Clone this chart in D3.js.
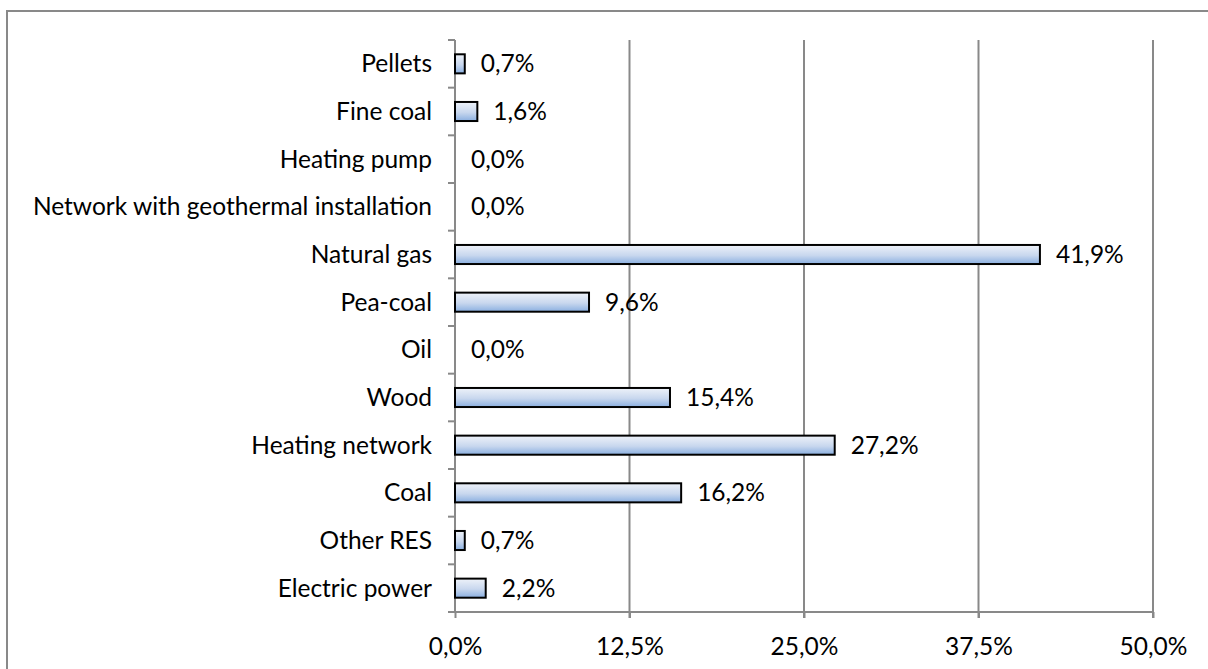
<!DOCTYPE html>
<html>
<head>
<meta charset="utf-8">
<script src="https://cdn.jsdelivr.net/npm/d3@7"></script>
<style>
  body { margin: 0; background: #fff; }
  text { font-family: Lato, "Open Sans", sans-serif; fill: #000; }
</style>
</head>
<body>
<div id="chart"></div>
<script>
// categories from top to bottom
const categories = ["Pellets", "Fine coal", "Heating pump", "Network with geothermal installation",
  "Natural gas", "Pea-coal", "Oil", "Wood", "Heating network", "Coal", "Other RES", "Electric power"];
const values = [0.7, 1.6, 0.0, 0.0, 41.9, 9.6, 0.0, 15.4, 27.2, 16.2, 0.7, 2.2];
const xTicks = [0, 12.5, 25, 37.5, 50];

const w = 1208, h = 669;
const margin = { top: 40, right: 55, bottom: 57, left: 455 };
const fontSize = 24.5;

const svg = d3.select("#chart").append("svg")
  .attr("width", w)
  .attr("height", h);

// gradient fill for the bars
const grad = svg.append("defs").append("linearGradient")
  .attr("id", "barGrad")
  .attr("x1", 0).attr("y1", 0).attr("x2", 0).attr("y2", 1);
grad.append("stop").attr("offset", "0%").attr("stop-color", "#eef2f9");
grad.append("stop").attr("offset", "55%").attr("stop-color", "#c8d7ee");
grad.append("stop").attr("offset", "100%").attr("stop-color", "#8aafe0");

// outer frame
svg.append("rect")
  .attr("x", 7).attr("y", 11)
  .attr("width", w + 10).attr("height", h + 10)
  .attr("fill", "none")
  .attr("stroke", "#898989")
  .attr("stroke-width", 2);

const xScale = d3.scaleLinear()
  .domain([0, 50])
  .range([margin.left, w - margin.right]);

const yScale = d3.scaleBand()
  .domain(categories)
  .range([margin.top, h - margin.bottom])
  .paddingInner(0.6)
  .paddingOuter(0.3);

const bottom = h - margin.bottom;
const fmt = d => d3.format(".1f")(d).replace(".", ",") + "%";

// vertical gridlines
svg.append("g")
  .selectAll("line")
  .data(xTicks.slice(1))
  .join("line")
  .attr("x1", d => xScale(d)).attr("x2", d => xScale(d))
  .attr("y1", margin.top).attr("y2", bottom + 6)
  .attr("stroke", "#898989")
  .attr("stroke-width", 2);

// x axis
const xAxis = d3.axisBottom(xScale)
  .tickValues(xTicks)
  .tickSize(6)
  .tickPadding(20)
  .tickFormat(fmt);

const gx = svg.append("g")
  .attr("transform", "translate(0," + bottom + ")")
  .call(xAxis);
gx.select(".domain").attr("stroke", "#898989").attr("stroke-width", 2)
  .attr("d", "M" + margin.left + ",0H" + xScale(50));
gx.selectAll(".tick line").attr("stroke", "#898989").attr("stroke-width", 2);
gx.selectAll(".tick text").attr("font-size", fontSize).attr("font-family", "Lato, sans-serif");

// y axis: ticks sit between the categories
const step = yScale.step();
const boundaries = d3.range(categories.length + 1).map(i => margin.top + i * step);
svg.append("g")
  .selectAll("line")
  .data(boundaries)
  .join("line")
  .attr("x1", margin.left - 7).attr("x2", margin.left)
  .attr("y1", d => d).attr("y2", d => d)
  .attr("stroke", "#898989")
  .attr("stroke-width", 2);
svg.append("line")
  .attr("x1", margin.left).attr("x2", margin.left)
  .attr("y1", margin.top).attr("y2", bottom)
  .attr("stroke", "#898989")
  .attr("stroke-width", 2);

// category labels
svg.append("g")
  .selectAll("text")
  .data(categories)
  .join("text")
  .attr("x", margin.left - 23)
  .attr("y", d => yScale(d) + yScale.bandwidth() / 2)
  .attr("dy", "0.35em")
  .attr("text-anchor", "end")
  .attr("font-size", fontSize)
  .text(d => d);

// bars (skip zero values)
svg.append("g")
  .selectAll("rect")
  .data(categories.map((c, i) => ({ c, v: values[i] })).filter(d => d.v > 0))
  .join("rect")
  .attr("x", xScale(0))
  .attr("y", d => yScale(d.c))
  .attr("width", d => xScale(d.v) - xScale(0))
  .attr("height", yScale.bandwidth())
  .attr("fill", "url(#barGrad)")
  .attr("stroke", "#000")
  .attr("stroke-width", 2);

// value labels
svg.append("g")
  .selectAll("text")
  .data(categories.map((c, i) => ({ c, v: values[i] })))
  .join("text")
  .attr("x", d => xScale(d.v) + 16)
  .attr("y", d => yScale(d.c) + yScale.bandwidth() / 2)
  .attr("dy", "0.35em")
  .attr("font-size", fontSize)
  .text(d => fmt(d.v));
</script>
</body>
</html>
